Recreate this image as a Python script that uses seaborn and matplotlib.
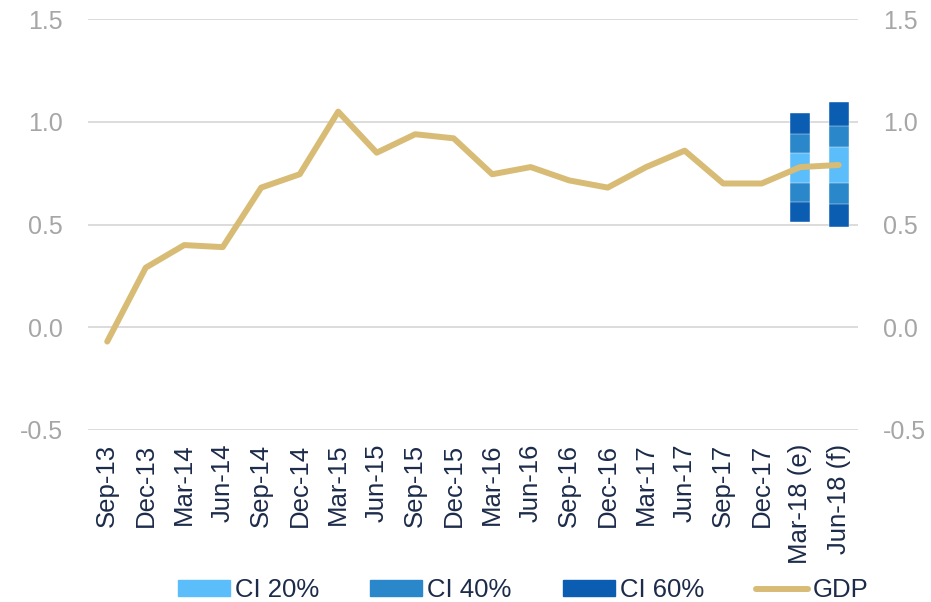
import numpy as np
import pandas as pd
import seaborn as sns
import matplotlib.pyplot as plt
from matplotlib.patches import Patch
from matplotlib.lines import Line2D

# --- dados ---
quarters = ['Sep-13', 'Dec-13', 'Mar-14', 'Jun-14', 'Sep-14', 'Dec-14', 'Mar-15', 'Jun-15',
            'Sep-15', 'Dec-15', 'Mar-16', 'Jun-16', 'Sep-16', 'Dec-16', 'Mar-17', 'Jun-17',
            'Sep-17', 'Dec-17', 'Mar-18 (e)', 'Jun-18 (f)']
gdp = [-0.07, 0.29, 0.40, 0.39, 0.68, 0.745, 1.05, 0.85, 0.94, 0.92, 0.745, 0.78,
       0.715, 0.68, 0.78, 0.86, 0.70, 0.70, 0.78, 0.79]

# intervalos de confianca (apenas os dois ultimos trimestres)
ci_quarters = ['Mar-18 (e)', 'Jun-18 (f)']
ci20_low = [0.70, 0.70]
ci20_high = [0.85, 0.88]
ci40_low = [0.61, 0.60]
ci40_high = [0.94, 0.98]
ci60_low = [0.51, 0.487]
ci60_high = [1.045, 1.095]

c20 = '#5BBDFA'
c40 = '#2A87CA'
c60 = '#0B5DB1'
c_gdp = '#D8BC76'
navy = '#1C2B4A'
grey = '#A6A6A6'

sns.set_theme(style='white')
plt.rcParams['font.family'] = ['Liberation Sans', 'DejaVu Sans']

fig = plt.figure(figsize=(9.31, 6.02), dpi=100)
ax = fig.add_axes([0.0945, 0.286, 0.827, 0.682])

df = pd.DataFrame({'quarter': quarters, 'gdp': gdp})
df['pos'] = np.arange(len(quarters))
ci_pos = [quarters.index(q) for q in ci_quarters]

# barras empilhadas de IC: 60% por baixo, 20% por cima
for lo, hi, col in [(ci60_low, ci60_high, c60), (ci40_low, ci40_high, c40), (ci20_low, ci20_high, c20)]:
    ax.bar(ci_pos, np.array(hi) - np.array(lo), bottom=lo, width=0.52, color=col,
           edgecolor='white', linewidth=0.3, zorder=2)

sns.lineplot(data=df, x='pos', y='gdp', ax=ax, color=c_gdp, linewidth=4.3,
             solid_capstyle='round', zorder=3)

ax.set_xlim(-0.5, 19.5)
ax.set_ylim(-0.5, 1.5)
ax.set_yticks([-0.5, 0.0, 0.5, 1.0, 1.5])
ax.set_yticklabels(['-0.5', '0.0', '0.5', '1.0', '1.5'])
ax.set_xticks(df['pos'])
ax.set_xticklabels(quarters, rotation=90, color=navy, fontsize=18.5)
ax.set_xlabel('')
ax.set_ylabel('')
ax.grid(axis='y', color='#D9D9D9', linewidth=1.3)
ax.tick_params(axis='y', colors=grey, labelsize=18, length=0, pad=18)
ax.tick_params(axis='x', length=0, pad=10)
for s in ax.spines.values():
    s.set_visible(False)

ax2 = ax.twinx()
ax2.set_ylim(ax.get_ylim())
ax2.set_yticks(ax.get_yticks())
ax2.set_yticklabels(['-0.5', '0.0', '0.5', '1.0', '1.5'])
ax2.tick_params(axis='y', colors=grey, labelsize=18, length=0, pad=18)
for s in ax2.spines.values():
    s.set_visible(False)

handles = [Patch(color=c20, label='CI 20%'), Patch(color=c40, label='CI 40%'),
           Patch(color=c60, label='CI 60%'),
           Line2D([0], [0], color=c_gdp, linewidth=4.3, solid_capstyle='round', label='GDP')]
leg = fig.legend(handles=handles, loc='center', bbox_to_anchor=(0.562, 0.02), ncol=4,
                 frameon=False, fontsize=18.5, handlelength=2.02, handleheight=0.54,
                 columnspacing=2.0, handletextpad=0.2)
for t in leg.get_texts():
    t.set_color(navy)

fig.savefig('out.png', dpi=100)
